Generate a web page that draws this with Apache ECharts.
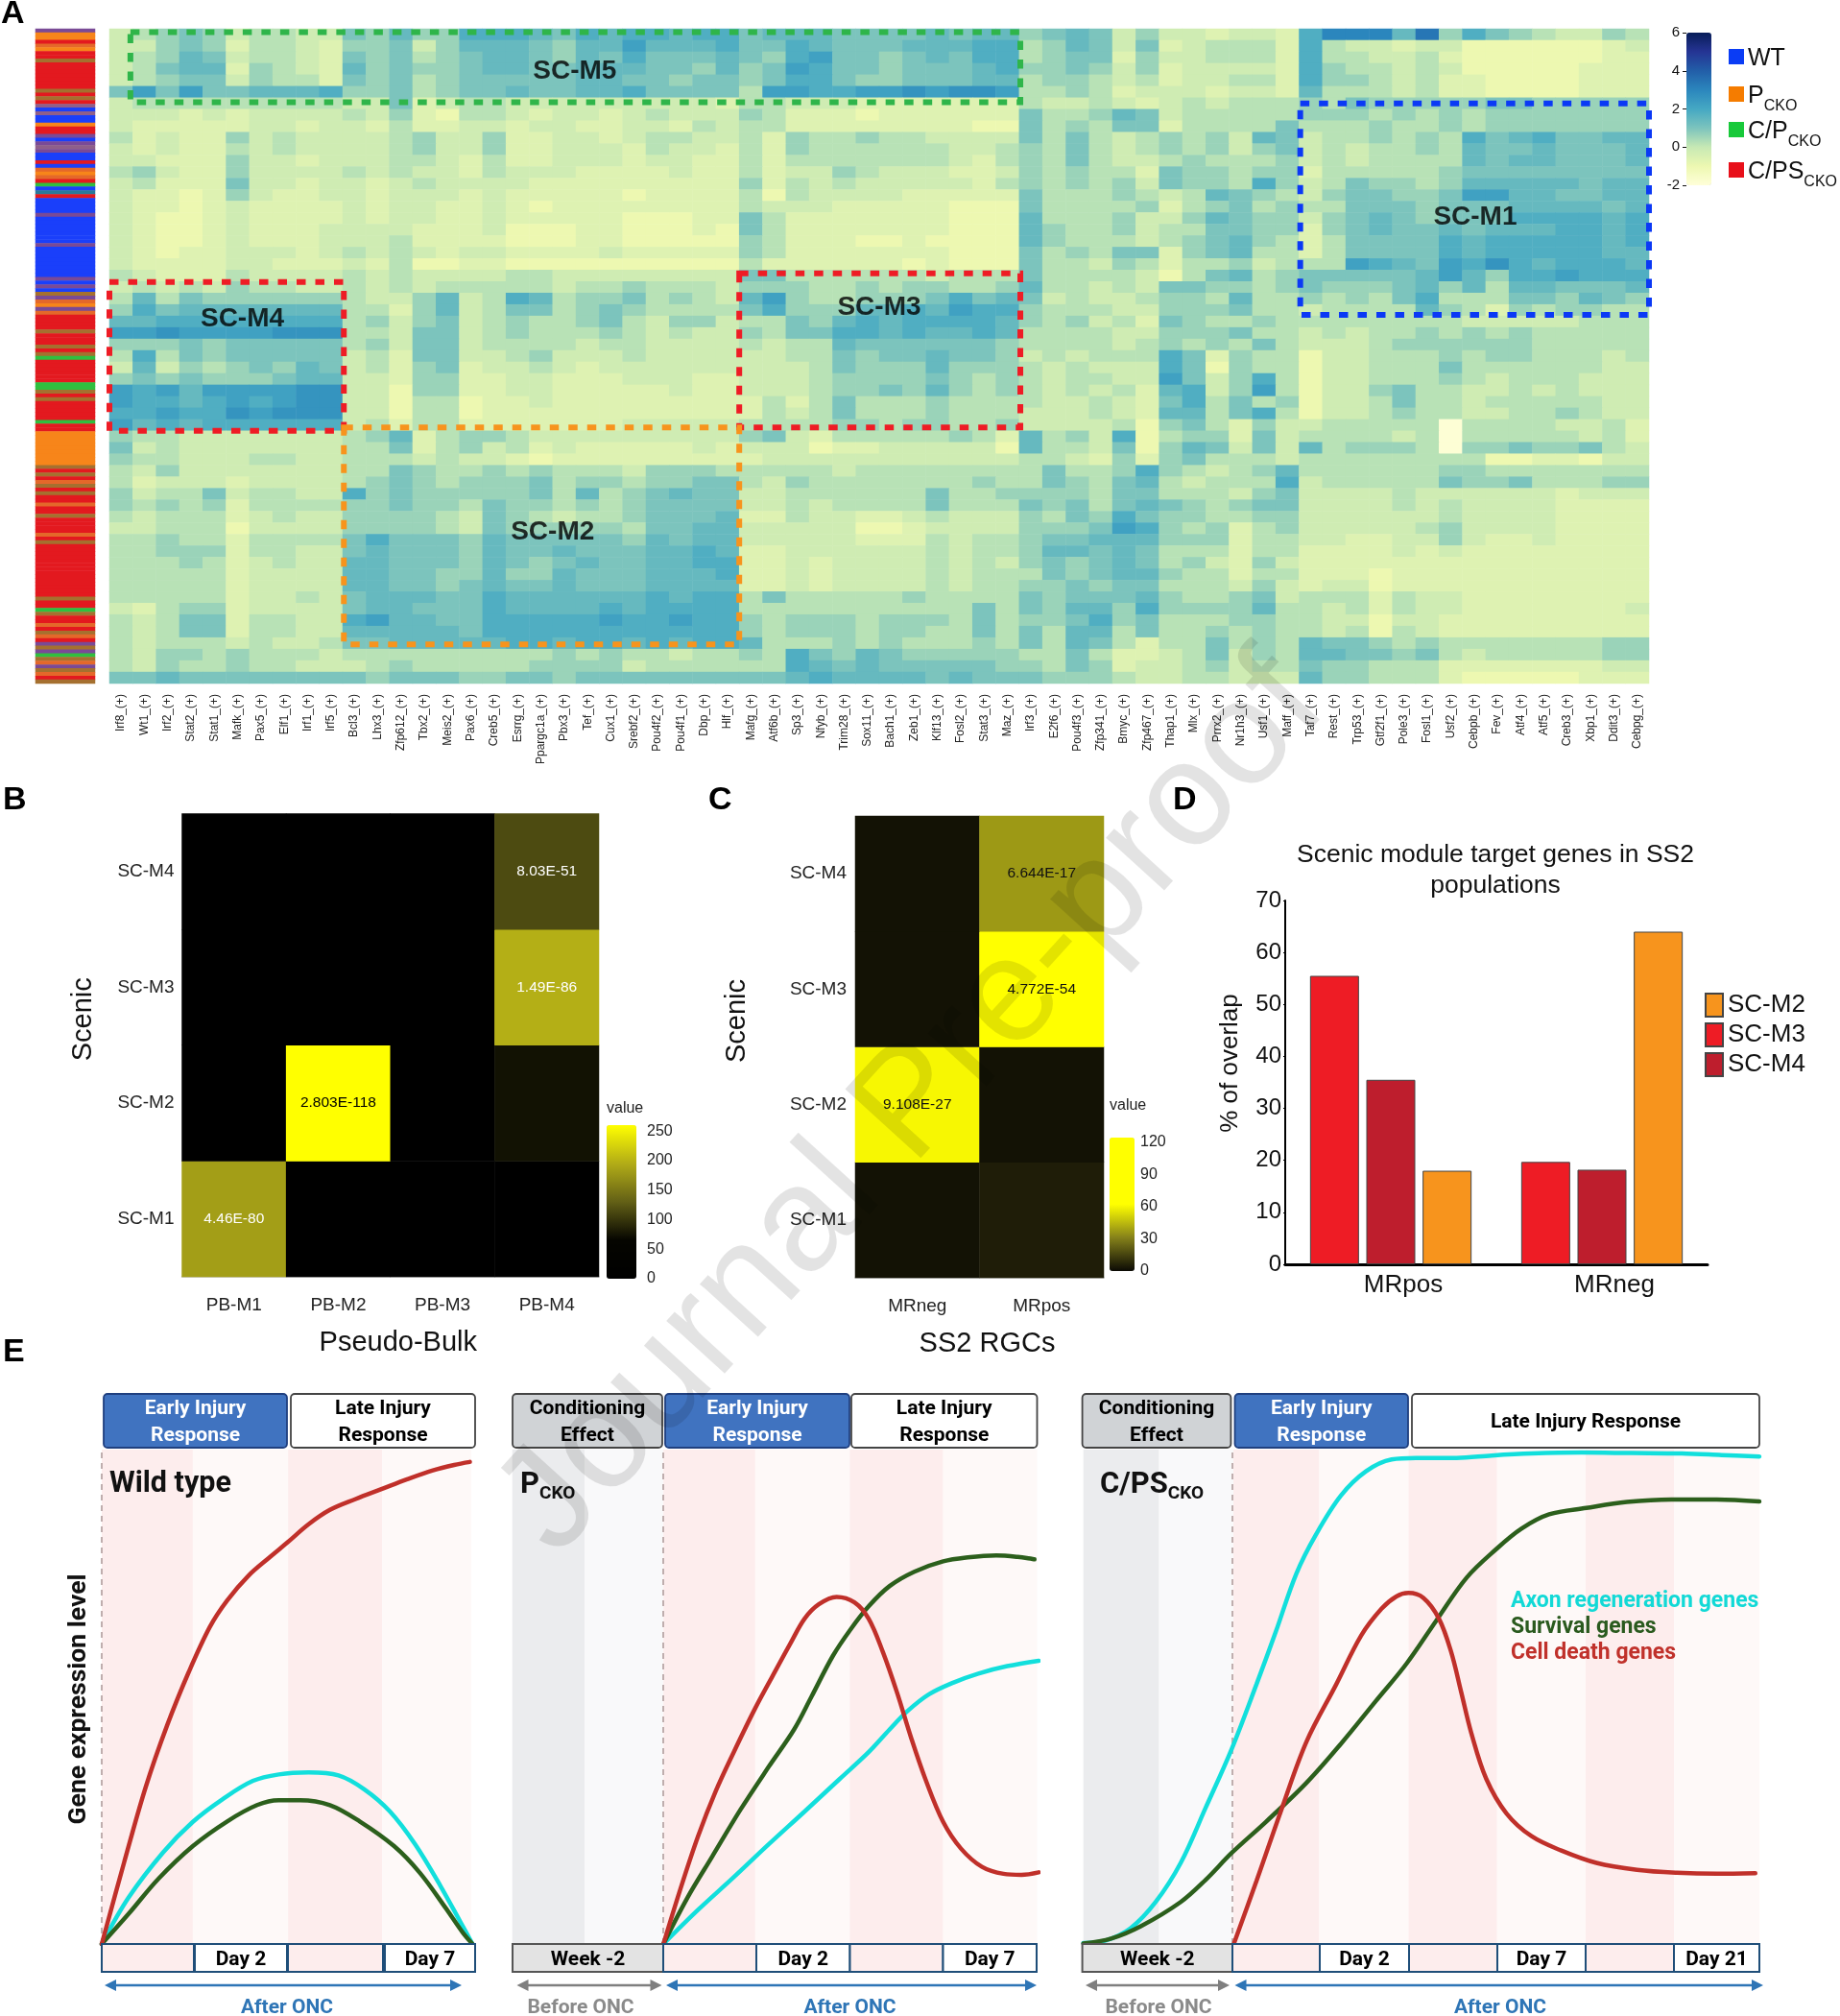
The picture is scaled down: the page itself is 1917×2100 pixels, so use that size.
<!DOCTYPE html>
<html><head><meta charset="utf-8">
<style>html,body{margin:0;padding:0;background:#fff}#c{width:1917px;height:2100px}</style>
<script src="https://cdn.jsdelivr.net/npm/echarts@6/dist/echarts.min.js"></script>
</head><body><div id="c"></div>
<script>
// ---------- Panel A data ----------
const regulons = ['Irf8','Wt1','Irf2','Stat2','Stat1','Mafk','Pax5','Elf1','Irf1','Irf5','Bcl3','Lhx3','Zfp612','Tbx2','Meis2','Pax6','Creb5','Esrrg','Ppargc1a','Pbx3','Tef','Cux1','Srebf2','Pou4f2','Pou4f1','Dbp','Hlf','Mafg','Atf6b','Sp3','Nfyb','Trim28','Sox11','Bach1','Zeb1','Klf13','Fosl2','Stat3','Maz','Irf3','E2f6','Pou4f3','Zfp341','Bmyc','Zfp467','Thap1','Mlx','Prrx2','Nr1h3','Usf1','Maff','Taf7','Rest','Trp53','Gtf2f1','Pole3','Fosl1','Usf2','Cebpb','Fev','Atf4','Atf5','Creb3','Xbp1','Ddit3','Cebpg'].map(g=>g+'_(+)');
// one string per band of cells, one character per regulon (coded level)
const heatRows = [
"2345423322 546447776576 77677 566655556566 45652 4221221 7aaa6b475432243",
"2245413321 445246665466 86667 557655566677 34652 5123331 732212200000012",
"2346523321 545345665465 75556 547855456577 34551 4223331 733223100000011",
"2356614321 645445665566 65546 458755455567 44542 4122221 743323200000111",
"2345524331 545345555566 55455 457754455566 34432 3122331 744323110000111",
"5858556667 445345565566 75555 388778898998 33431 2221221 633323110000111",
"2333333333 225123322222 22221 332221111111 32232 1232333 435444445544444",
"2221212222 324103321221 23222 431110111111 53346 5233333 444343434444444",
"2111112212 213112212211 22132 331111111100 53435 5133335 333433434444444",
"3121142322 223422411221 23322 314334332222 53532 3434265 233434375675566",
"2121132322 223422411222 13221 314333333223 43532 3434245 232334365565556",
"2211142212 223321311222 12211 313333333213 43532 2343334 232333365665556",
"3421142222 323221322211 11211 312243222112 43433 1544344 133333455555555",
"2311152212 212322221111 11111 413232222213 43434 2544374 235443466666566",
"2110142112 212221211111 01111 303222211111 53334 3236543 245544588665566",
"2110121111 212211210111 11111 322211111000 53333 4134534 335554555666656",
"2100121111 212211211111 00011 531111111000 63334 2246544 245654555777767",
"2100121112 222111200011 00010 531111111000 64334 2335544 145655656667767",
"2100121112 223111100011 00000 431110010000 64333 2345643 135555767777767",
"2101122212 323212211112 11111 431111111000 53435 5145633 135555767777766",
"2111122111 213001100000 00000 311111101000 53324 3133423 338765879767776",
"3211132222 323222233222 22222 553333332333 53333 2035634 555556864778777",
"2323243322 323233333233 43332 444334344334 63323 2554434 544456463665556",
"3635444444 322462376344 53432 684334445756 52322 3443633 434357333554654",
"4756666666 331462355345 43333 574446676877 43332 2444533 233336431434433",
"6677777777 342452343345 32442 335467677776 43423 1543343 333333322222333",
"8898888999 332552343334 32322 435577676676 33332 2444533 232334343433333",
"4445455555 342552333323 32222 323365555554 33332 3434353 222344444433333",
"3735455555 231552234222 32222 223354556554 23233 3751433 022333434433323",
"2624345465 231451223212 22222 222354446444 32322 2750433 022333533333322",
"4545444566 221441122111 22211 222344445434 32332 2852473 022333432333222",
"8786888899 220441122111 11211 222344546434 32323 1672483 022453322323222",
"8776787899 220330112111 11111 131353334333 32232 1573534 022353323333322",
"7787798999 220330111111 11111 132353334333 22232 1663573 022343322334322",
"8676777777 231331111111 22222 333344344334 22223 0453142 233333.33332231",
"4332222222 346134432222 22222 452133333431 63427 0344152 333323.33333231",
"5232222222 335134231211 11121 222011222220 63325 0465252 634443.44544532",
"4332223322 333232210111 11111 122222222222 33214 1453332 333333330011022",
"3242222222 335433434333 24443 333323333333 35334 7432346 333333443333333",
"3122212222 345434445344 34455 324333333343 35435 6323337 233333544533344",
"4233523322 745444445363 45655 223333335334 44435 5333245 222232222221222",
"4343413333 445443544343 45555 223233335333 54535 6543455 222232322221111",
"3233312322 444432543233 45556 113221123222 43547 5443344 222222322221111",
"2233302222 444432544444 35566 222220012222 44458 7434134 222223422221111",
"3343313333 575554655555 46566 222221113233 45566 6444133 221122421121111",
"3344413322 565554655655 56676 112222223233 46656 5333133 111121211111111",
"3334312322 665554654565 56677 112122223232 45456 5342142 111111111111111",
"3333312222 665544644655 56667 112122223233 35456 6433133 111011111111111",
"3333312222 665545655655 56666 112122223233 44545 5333242 122011111111111",
"3333312232 566655766666 67677 353333343333 54555 6433452 333132211111111",
"2134412222 566555766667 67777 333333333353 54664 7444463 323132211111112",
"3235513322 786655777778 77877 434443444353 44574 5333443 322022111111111",
"3235513322 666665777777 77777 434443443353 53663 5334343 323032111111111",
"3233323223 556666677677 67677 633343433343 53653 1335343 655434333333344",
"3244343332 333333333434 33233 437546544444 33531 1235243 665545323333344",
"3243343322 234333334444 23333 337656555554 43541 2234233 544333111111122",
"5565555555 545554455455 55555 556766665655 54443 2233222 644333100000111"
];
// sample annotation strip, top to bottom: R C/PS, O P, G C/P, B WT; P,Q,A,M,T mixed bands
const sampleStrip = "POORAORRMRRRRRRRMRMRQBQBBORRPBPQPBBRBAOARGBTRBBBBPBBBBBBBPBBBBBBBBPBPBMPAOPARRRRMRRRMRMGRRRRRRGGMRMRRRRRGRROOOOOOOOOMRMRAMRMRRARRMRRRRARMRRRRRRRRRRRRRRMRRGMRRARMARPMPGMAPMARM";
const sampleCodes = ['R','O','G','B','P','Q','A','M','T'];
const sampleColors = ['#e3191f','#f7851a','#2fbf3f','#1a3ffa','#7a4a96','#8f5f8a','#e4682a','#a5702f','#2a7a9a'];
const heatScale = ['#ffffd9','#edf8b1','#c7e9b4','#7cc4bd','#45a8c3','#2b86bd','#225ea8','#253494','#081d58'];
const moduleNames = ['SC-M5','SC-M4','SC-M3','SC-M2','SC-M1'];
const moduleColors = ['#2fb54a','#ee1c25','#ee1c25','#f7941d','#0b39f5'];
const moduleCols = [[0.9,39.05],[-0.1,10.05],[27,39.05],[10.05,27],[51.05,66]];
const moduleRows = [[0.3,6.4],[22.05,35],[21.3,34.7],[34.7,53.6],[6.5,24.9]];
const moduleLabelCols = [19.95, 5.7, 33, 19, 58.55];
const moduleLabelRows = [3.7, 25.3, 24.3, 43.8, 16.4];

// ---------- Panels B, C, D data ----------
const pbCols = ['PB-M1','PB-M2','PB-M3','PB-M4'];
const scRows = ['SC-M1','SC-M2','SC-M3','SC-M4'];
const pbValues = [[183,0,0,0],[0,271,0,74],[0,0,0,197],[0,0,0,115]];
const pbText = {'0,0':'4.46E-80','1,1':'2.803E-118','3,2':'1.49E-86','3,3':'8.03E-51'};
const rgcCols = ['MRneg','MRpos'];
const rgcValues = [[2,5],[60,2],[2,122],[2,37]];
const rgcText = {'0,1':'9.108E-27','1,2':'4.772E-54','1,3':'6.644E-17'};
const overlapCats = ['MRpos','MRneg'];
const overlapM3 = [55.5,19.7];
const overlapM4 = [35.5,18.2];
const overlapM2 = [18,64];

// ---------- Panel E data (time in % of the panel width, level in % of the panel height) ----------
const wtDeathX=[0,6.1,11.8,17.5,23.3,29,33.6,39.3,45.1,49.7,55.4,61.1,68,74.9,81.8,88.7,94.4,98.6];
const wtDeathY=[0,16.8,31.8,44.2,55,64.2,69.5,74.5,78.3,81.2,84.9,87.8,90,92,94,95.8,96.9,97.5];
const wtAxonX=[0,7.2,16.4,24.4,32.4,40.5,47.4,55.4,63.4,70.3,77.2,84,90.9,96.1,99.3];
const wtAxonY=[0,9.4,18.5,24.7,29.3,33,34.3,34.7,34.1,31.3,26.8,20.1,11.5,4.4,0];
const wtSurvX=[0,7.2,15.2,24.4,33.6,41.6,47.4,53.1,61.1,69.1,78.3,85.2,92.1,96.7,99.3];
const wtSurvY=[0,6.1,13.2,19.8,24.8,28.1,29.1,29.1,28.1,24.8,19.8,14.4,7.3,2.3,0];
const pDeathX=[28.8,32,35.4,38.8,42.2,46.2,49.6,53,55.7,58.4,61.8,65.2,67.9,70.6,73.3,76,78.7,82.1,85.5,89.5,93.6,97,100.3];
const pDeathY=[0,11,21.8,31,38.8,47.5,54.2,60.8,65.8,68.7,70.2,69.1,65.8,59.1,50.9,41.7,33.4,24.7,19.3,15.6,14.2,14,14.5];
const pSurvX=[28.8,33.4,38.1,43.5,48.9,53.7,57,61.1,64.5,67.9,71.9,76.6,82.1,86.8,92.2,96.3,99.5];
const pSurvY=[0,9.4,17.7,27.2,35.9,43.4,50,58.3,63.7,68.3,72.4,75.3,77.4,78.2,78.6,78.3,77.8];
const pAxonX=[28.8,35.4,42.2,48.9,55.7,62.4,67.9,71.9,75.3,79.4,84.1,88.8,94.3,100.3];
const pAxonY=[0,6.9,13.5,20.2,26.8,33.4,38.8,43.4,47.1,50.5,52.9,54.7,56.2,57.3];
const cpAxonX=[0,3.3,7,10.7,14.4,18.1,21.9,25.6,28.5,31.5,34.4,38.1,41.8,45.6,49.2,55.2,60.4,66.3,73.7,81.1,88.5,94.4,100];
const cpAxonY=[.2,.7,3.2,8.5,16.4,27.6,39.3,52.5,63.3,74.9,82.8,90.7,95.6,98,98.3,98.3,98.8,99.2,99.4,99.3,99.2,98.9,98.6];
const cpSurvX=[0,4.1,8.5,14.4,18.1,22,27,33,38.1,43.3,47.8,52.2,56.7,61.1,64.8,68.9,74.4,80.4,87,93.7,100];
const cpSurvY=[.1,1.1,3.6,8.5,13,18.5,24.7,32.6,40.5,49.2,56.7,65.4,74.1,79.9,84,86.9,88.2,89.4,89.9,89.9,89.5];
const cpDeathX=[22.3,25.6,29.3,33,37.4,41.1,44.1,46.3,48.1,50.3,52.6,54.4,55.9,57.4,59.6,62.6,66.3,70.7,75.9,81.9,87.8,93.7,99.4];
const cpDeathY=[.2,12.7,27.2,40.9,52.5,62.4,67.8,70.3,71,70,65.8,59.1,50.9,42.6,33.4,26.4,21.8,18.9,16.4,15,14.4,14.2,14.3];
const wtBands=[0,24.4,49.9,75.1,99];
const pBands=[0,13.8,28.8,46.3,64.3,82.1,100];
const cpBands=[0,11.2,22.2,34.9,48.1,61.2,74.3,87.4,100];
const CYAN='#12dfdc',GREEN='#2c5f1c',RED='#c0302a';
const GRAY='#ebecee',GRAY2='#f9f9fa',PINK='#fdeded',PALE='#fef9f8';

// ---------- options ----------
const FF='"Liberation Sans"',RB='Roboto';
const zip=(a,b)=>a.map((v,i)=>[v,b[i]]);
const grids=[],xs=[],ys=[],series=[],graphic=[];
function addGrid(l,t,w,h,x,y){const i=grids.length;grids.push({left:l,top:t,width:w,height:h,containLabel:false});xs.push(Object.assign({gridIndex:i},x));ys.push(Object.assign({gridIndex:i},y));return i;}
const hidden={show:false};

// sidebar
const strip=sampleStrip.split('');
const g0=addGrid(37,30,62,682,Object.assign({type:'category',data:['s']},hidden),Object.assign({type:'category',inverse:true,data:strip.map((_,i)=>i)},hidden));
series.push({type:'heatmap',xAxisIndex:g0,yAxisIndex:g0,progressive:0,silent:true,data:strip.map((c,i)=>[0,i,sampleCodes.indexOf(c)])});
// heat
const rows=heatRows.map(s=>s.replace(/\s/g,''));
const g1=addGrid(114,30,1604,682,{type:'category',data:regulons,axisLine:{show:false},axisTick:{show:false},axisLabel:{interval:0,rotate:90,fontSize:12,color:'#222',margin:11,fontFamily:FF}},Object.assign({type:'category',inverse:true,data:rows.map((_,i)=>i)},hidden));
const heatData=[];rows.forEach((s,r)=>{for(let c=0;c<s.length;c++){heatData.push([c,r,s[c]==='.'?-1.9:-1+0.4*parseInt(s[c],36)]);}});
series.push({type:'heatmap',xAxisIndex:g1,yAxisIndex:g1,progressive:0,silent:true,data:heatData});
// module boxes overlay (columns / bands as axis units)
const g2=addGrid(114,30,1604,682,{type:'value',min:0,max:66,show:false},{type:'value',min:0,max:57,inverse:true,show:false});
series.push({type:'scatter',xAxisIndex:g2,yAxisIndex:g2,z:6,silent:true,symbolSize:0,clip:false,
 data:moduleNames.map((n,i)=>({value:[moduleLabelCols[i],moduleLabelRows[i]],label:{show:true,position:'inside',formatter:n,fontSize:28,fontWeight:'bold',color:'#000',fontFamily:FF}})),
 markArea:{silent:true,z:6,data:moduleNames.map((n,i)=>[{xAxis:moduleCols[i][0],yAxis:moduleRows[i][0],itemStyle:{color:'rgba(0,0,0,0)',borderColor:moduleColors[i],borderWidth:6,borderType:[9.5,10]}},{xAxis:moduleCols[i][1],yAxis:moduleRows[i][1]}])}});
// A colourbar axis
addGrid(1757,34,26,159,{type:'value',show:false},{type:'value',min:-2,max:6,interval:2,z:10,axisLine:{show:false},axisTick:{show:true,length:4,lineStyle:{color:'#111'}},splitLine:{show:false},axisLabel:{fontSize:15,color:'#111',margin:7,fontFamily:FF}});

// B
function cellItems(vals,text,light){const o=[];vals.forEach((row,r)=>row.forEach((v,c)=>{const t=text[c+','+r];o.push(t?{value:[c,r,v],label:{show:true,formatter:t,fontSize:15.5,fontFamily:FF,color:light(v)}}:{value:[c,r,v]});}));return o;}
const catAxis=(data,extra)=>Object.assign({type:'category',data,axisLine:{lineStyle:{color:'#bbb',width:1.5}},axisTick:{alignWithLabel:true,length:3,lineStyle:{color:'#111',width:2}},axisLabel:{fontSize:19,color:'#222',fontFamily:FF,interval:0}},extra);
const nameStyleX={fontSize:29,color:'#111',fontFamily:FF,padding:[0,0,0,16]};
const nameStyleY={fontSize:29,color:'#111',fontFamily:FF,padding:[0,0,0,54]};
const g4=addGrid(189.5,847.5,434.5,482.5,catAxis(pbCols,{name:'Pseudo-Bulk',nameLocation:'middle',nameGap:54,nameTextStyle:nameStyleX,axisLabel:{fontSize:19,color:'#222',fontFamily:FF,interval:0,margin:20}}),catAxis(scRows,{name:'Scenic',nameLocation:'middle',nameGap:88,nameTextStyle:nameStyleY,axisLine:{show:false},axisLabel:{fontSize:19,color:'#222',fontFamily:FF,interval:0,margin:8}}));
series.push({type:'heatmap',xAxisIndex:g4,yAxisIndex:g4,progressive:0,silent:true,data:cellItems(pbValues,pbText,v=>v>240?'#000':'#fff')});
addGrid(632,1172,31,160,{type:'value',show:false},{type:'value',min:0,max:260,interval:50,position:'right',z:10,axisLine:{show:false},axisTick:{show:true,inside:true,length:7,lineStyle:{color:'#fff',width:1.5}},splitLine:{show:false},axisLabel:{fontSize:16,color:'#222',margin:11,fontFamily:FF,showMaxLabel:false}});
// C
const g6=addGrid(891,850,259,481,catAxis(rgcCols,{name:'SS2 RGCs',nameLocation:'middle',nameGap:54,nameTextStyle:nameStyleX,axisLabel:{fontSize:19,color:'#222',fontFamily:FF,interval:0,margin:20}}),catAxis(scRows,{name:'Scenic',nameLocation:'middle',nameGap:109,nameTextStyle:nameStyleY,axisLine:{show:false},axisLabel:{fontSize:19,color:'#222',fontFamily:FF,interval:0,margin:9}}));
series.push({type:'heatmap',xAxisIndex:g6,yAxisIndex:g6,progressive:0,silent:true,data:cellItems(rgcValues,rgcText,v=>'#111')});
addGrid(1156,1185,26,139,{type:'value',show:false},{type:'value',min:0,max:124,interval:30,position:'right',z:10,axisLine:{show:false},axisTick:{show:true,inside:true,length:5,lineStyle:{color:'#fff',width:1.5}},splitLine:{show:false},axisLabel:{fontSize:16,color:'#222',margin:6,fontFamily:FF,showMaxLabel:false}});
// D
const g8=addGrid(1339,938,440,379,{type:'category',data:overlapCats,axisLine:{lineStyle:{color:'#000',width:3}},axisTick:{show:false},axisLabel:{fontSize:26,color:'#111',margin:9,fontFamily:FF,padding:[0,0,0,26]}},{type:'value',min:0,max:70,interval:10,name:'% of overlap',nameLocation:'middle',nameGap:44,nameTextStyle:{fontSize:26,color:'#111',fontFamily:FF,padding:[0,0,0,40]},axisLine:{show:true,lineStyle:{color:'#000',width:2}},axisTick:{show:true,length:2,lineStyle:{color:'#000'}},splitLine:{show:false},axisLabel:{fontSize:24,color:'#111',margin:4,fontFamily:FF}});
[['SC-M3',overlapM3,'#ee1c25'],['SC-M4',overlapM4,'#be1e2d'],['SC-M2',overlapM2,'#f7941d']].forEach(s=>series.push({type:'bar',name:s[0],xAxisIndex:g8,yAxisIndex:g8,data:s[1],barWidth:51,barGap:'15%',silent:true,itemStyle:{color:s[2],borderColor:'#444',borderWidth:1}}));

// E
function panel(left,width,bands,bandColors,onset,lines){
 const g=addGrid(left,1510,width,515,{type:'value',min:0,max:100,show:false},{type:'value',min:0,max:100,show:false});
 lines.forEach((l,i)=>series.push({type:'line',xAxisIndex:g,yAxisIndex:g,data:zip(l[0],l[1]),showSymbol:false,smooth:0.35,clip:false,silent:true,z:3+i,
  lineStyle:{color:l[2],width:4.5,cap:'round'},
  markArea:i?undefined:{silent:true,data:bandColors.map((c,k)=>[{xAxis:bands[k],itemStyle:{color:c}},{xAxis:bands[k+1]}])},
  markLine:i?undefined:{silent:true,symbol:'none',z:1,label:{show:false},lineStyle:{color:'#bfaeae',width:2,type:[6,5]},data:[{xAxis:onset}]}}));
}
panel(106,389,wtBands,[PINK,PALE,PINK,PALE],0,[[wtAxonX,wtAxonY,CYAN],[wtSurvX,wtSurvY,GREEN],[wtDeathX,wtDeathY,RED]]);
panel(533.7,546.8,pBands,[GRAY,GRAY2,PINK,PALE,PINK,PALE],28.8,[[pAxonX,pAxonY,CYAN],[pSurvX,pSurvY,GREEN],[pDeathX,pDeathY,RED]]);
panel(1128.7,704.3,cpBands,[GRAY,GRAY2,PINK,PALE,PINK,PALE,PINK,PALE],22,[[cpAxonX,cpAxonY,CYAN],[cpSurvX,cpSurvY,GREEN],[cpDeathX,cpDeathY,RED]]);

// ---------- annotation graphics ----------
function T(text,x,y,o){o=o||{};graphic.push({type:'text',x,y,rotation:o.rot||0,z:o.z||50,silent:true,style:Object.assign({text,fill:o.fill||'#000',font:o.font||('18px '+FF),textAlign:o.align||'left',align:o.align||'left',textVerticalAlign:o.va||'middle',verticalAlign:o.va||'middle',rich:o.rich})});}
function R(x0,x1,y0,y1,fill,stroke,w,r){graphic.push({type:'rect',z:40,silent:true,shape:{x:x0,y:y0,width:x1-x0,height:y1-y0,r:r||0},style:{fill,stroke,lineWidth:w||1.5}});}
function arrow(x0,x1,y,color){
 graphic.push({type:'line',z:40,silent:true,shape:{x1:x0+8,y1:y,x2:x1-8,y2:y},style:{stroke:color,lineWidth:2.5}});
 graphic.push({type:'polygon',z:40,silent:true,shape:{points:[[x0,y],[x0+12,y-6],[x0+12,y+6]]},style:{fill:color}});
 graphic.push({type:'polygon',z:40,silent:true,shape:{points:[[x1,y],[x1-12,y-6],[x1-12,y+6]]},style:{fill:color}});
}
const BLUE='#2e75b6',BB='#1f4e79',GR='#7f7f7f';
// panel letters
[['A',1,15],['B',3,834],['C',738,834],['D',1222,834],['E',3,1409]].forEach(l=>T(l[0],l[1],l[2],{font:'bold 34px '+FF}));
// legend of panel A
const subRich={a:{font:'25px '+FF,fill:'#111',verticalAlign:'bottom',lineHeight:30},b:{font:'16px '+FF,fill:'#111',verticalAlign:'bottom',lineHeight:30,padding:[0,0,-6,0]}};
[['#0a3cf5','{a|WT}',59],['#f57c00','{a|P}{b|CKO}',98],['#18c93a','{a|C/P}{b|CKO}',135],['#e8101a','{a|C/PS}{b|CKO}',177]].forEach(l=>{
 R(1801,1817,l[2]-8,l[2]+8,l[0],null,0);
 T(l[1],1821,l[2],{rich:subRich});
});
// value captions
T('value',632,1155,{font:'16px '+FF,fill:'#222'});
T('value',1156,1152,{font:'16px '+FF,fill:'#222'});
// panel E text
T('Gene expression level',82,1770,{rot:Math.PI/2,font:'bold 26.5px '+RB,align:'center',fill:'#111'});
function head(x0,x1,kind,lines){
 const st={c:['#d0d3d6','#444','#000'],e:['#4073c0','#1f3f7f','#fff'],l:['#fff','#444','#000']}[kind];
 R(x0,x1,1452,1508,st[0],st[1],1.8,4);
 const cx=(x0+x1)/2;
 if(lines.length===2){T(lines[0],cx,1468,{font:'bold 21px '+RB,align:'center',fill:st[2]});T(lines[1],cx,1496,{font:'bold 21px '+RB,align:'center',fill:st[2]});}
 else T(lines[0],cx,1482,{font:'bold 21px '+RB,align:'center',fill:st[2]});
}
function foot(x0,x1,kind,label){
 R(x0,x1,2025,2054,kind==='w'?'#e3e3e3':(label?'#fff':PINK),kind==='w'?'#555':BB,2);
 if(label)T(label,(x0+x1)/2,2042,{font:'bold 21px '+RB,align:'center',fill:'#000'});
}
const EI=['Early Injury','Response'],LI=['Late Injury','Response'],CE=['Conditioning','Effect'];
head(108,299,'e',EI);head(303,495,'l',LI);
head(534,690,'c',CE);head(693,885,'e',EI);head(887,1080.5,'l',LI);
head(1127.6,1282.4,'c',CE);head(1286.5,1467,'e',EI);head(1471,1833,'l',['Late Injury Response']);
foot(106,202);foot(203,299,'d','Day 2');foot(300,399);foot(401,495,'d','Day 7');
foot(534,691,'w','Week -2');foot(691,788);foot(788,885.5,'d','Day 2');foot(885.5,982.5);foot(982.5,1080,'d','Day 7');
foot(1127.6,1284,'w','Week -2');foot(1284,1375);foot(1375,1468,'d','Day 2');foot(1468,1560);foot(1560,1652,'d','Day 7');foot(1652,1744);foot(1744,1833,'d','Day 21');
arrow(109,481,2068,BLUE);arrow(538.5,689.5,2068,GR);arrow(694,1080,2068,BLUE);arrow(1131,1281,2068,GR);arrow(1286.5,1837,2068,BLUE);
[['After ONC',299,BLUE],['Before ONC',605,'#8a8a8a'],['After ONC',885.5,BLUE],['Before ONC',1207,'#8a8a8a'],['After ONC',1563,BLUE]].forEach(a=>T(a[0],a[1],2092,{font:'bold 21px '+RB,align:'center',fill:a[2]}));
T('Wild type',114,1546,{font:'bold 30.5px '+RB,fill:'#111'});
const eRich={a:{font:'bold 31px '+RB,fill:'#111',verticalAlign:'bottom',lineHeight:36},b:{font:'bold 19px '+RB,fill:'#111',verticalAlign:'bottom',lineHeight:36,padding:[0,0,-3,0]}};
T('{a|P}{b|CKO}',542,1545,{rich:eRich});
T('{a|C/PS}{b|CKO}',1146,1545,{rich:eRich});
T('Axon regeneration genes',1574,1668,{font:'bold 23px '+RB,fill:'#12d9d6'});
T('Survival genes',1574,1695,{font:'bold 23px '+RB,fill:'#2a5a1e'});
T('Cell death genes',1574,1722,{font:'bold 23px '+RB,fill:'#c0312b'});
// watermark
T('Journal Pre-proof',951,1152,{rot:47.7*Math.PI/180,font:'155px '+FF,align:'center',fill:'rgba(0,0,0,0.11)',z:100});

const chart=echarts.init(document.getElementById('c'),null,{renderer:'canvas',width:1917,height:2100});
chart.setOption({
 animation:false,backgroundColor:'#fff',textStyle:{fontFamily:FF},
 title:{text:'Scenic module target genes in SS2\npopulations',left:1553,top:870,textAlign:'center',textStyle:{fontSize:26.5,fontWeight:'normal',color:'#111',lineHeight:32,fontFamily:FF}},
 legend:{orient:'vertical',left:1776,top:1034,itemWidth:18,itemHeight:24,itemGap:5,icon:'rect',selectedMode:false,data:['SC-M2','SC-M3','SC-M4'],textStyle:{fontSize:26,color:'#111',fontFamily:FF},padding:0},
 grid:grids,xAxis:xs,yAxis:ys,series,graphic:{elements:graphic},
 visualMap:[
  {type:'piecewise',show:false,seriesIndex:0,dimension:2,pieces:sampleColors.map((c,i)=>({value:i,color:c}))},
  {type:'continuous',seriesIndex:1,dimension:2,min:-2,max:6,left:1757,top:34,itemWidth:26,itemHeight:159,padding:0,calculable:false,realtime:false,hoverLink:false,inRange:{color:heatScale},textStyle:{fontSize:0}},
  {type:'continuous',seriesIndex:3,dimension:2,min:0,max:260,left:632,top:1172,itemWidth:31,itemHeight:160,padding:0,calculable:false,hoverLink:false,inRange:{color:['#000','#050500','#636016','#b2ac17','#ffff00']},textStyle:{fontSize:0}},
  {type:'continuous',seriesIndex:4,dimension:2,min:0,max:124,left:1156,top:1185,itemWidth:26,itemHeight:139,padding:0,calculable:false,hoverLink:false,inRange:{color:['#0b0a04','#85811a','#ffff00','#ffff00','#ffff00']},textStyle:{fontSize:0}}
 ]
});
</script></body></html>
